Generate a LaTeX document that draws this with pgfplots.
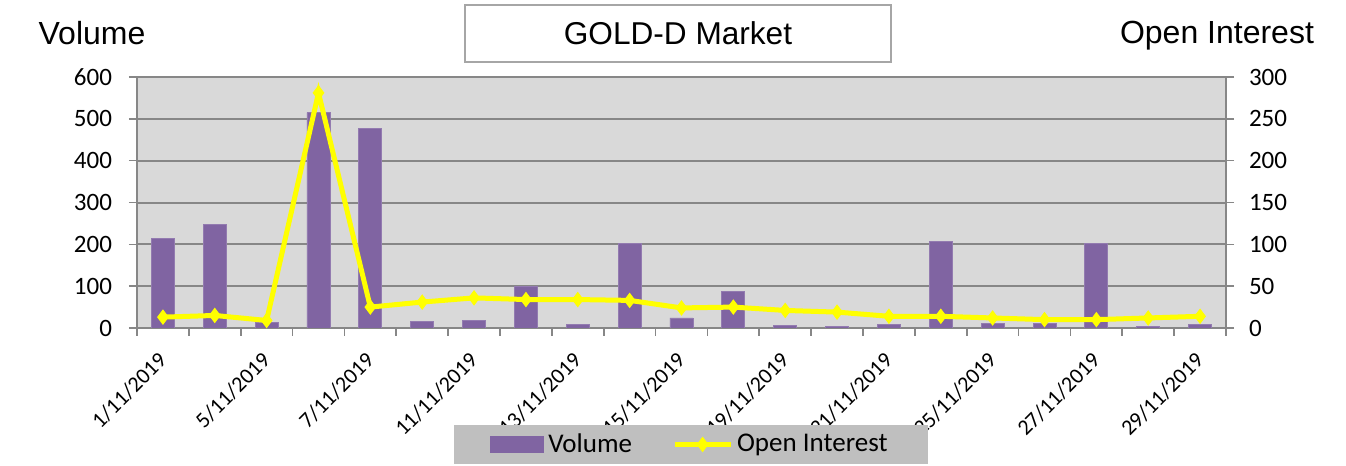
\documentclass[border=0pt]{standalone}
\usepackage{fontspec}
\setmainfont{Carlito}
\newfontfamily\arialf{Liberation Sans}
\usepackage{pgfplots}
\usepackage{pgfplotstable}
\pgfplotsset{compat=1.18}
\definecolor{barpurple}{HTML}{8064A2}
\definecolor{plotbg}{HTML}{D9D9D9}
\definecolor{gridgray}{HTML}{878787}
\definecolor{leggray}{HTML}{BFBFBF}
\definecolor{ylw}{HTML}{FFFF00}
\definecolor{boxgray}{HTML}{A6A6A6}

\pgfplotstableread{
x vol oi
0 215 13
1 247 15
2 14 9
3 515 281
4 478 25
5 16 31
6 18 36
7 100 34
8 9 34
9 203 33
10 24 24
11 87 25
12 6 21
13 3 19
14 9 14
15 206 14
16 10 12
17 10 10
18 203 10
19 3 12
20 8 14
}\data

\pgfplotsset{
  /pgf/number format/assume math mode=true,
  common/.style={
    at={(0,0)}, anchor=south west,
    scale only axis, width=544.5pt, height=125.5pt,
    xmin=-0.5, xmax=20.5,
    tick align=outside, major tick length=4pt,
    tick style={gridgray, line width=0.8pt},
    axis line style={gridgray, line width=1pt},
    tick label style={font=\fontsize{12.5}{15}\selectfont},
  }
}

\begin{document}
\begin{tikzpicture}
\path[use as bounding box] (-68.5pt,-69pt) rectangle (604.5pt,164pt);
\begin{axis}[common,
  ymin=0, ymax=600, ytick={0,100,...,600},
  axis background/.style={fill=plotbg},
  axis x line*=bottom, axis y line*=left,
  ymajorgrids, major grid style={gridgray, line width=1pt},
  xtick={-0.5,0.5,...,20.5}, xticklabels={},
  extra x ticks={0,2,...,20},
  extra x tick labels={1/11/2019,5/11/2019,7/11/2019,11/11/2019,13/11/2019,15/11/2019,19/11/2019,21/11/2019,25/11/2019,27/11/2019,29/11/2019},
  extra x tick style={major tick length=0pt, tick label style={font=\fontsize{11}{13}\selectfont, xshift=-3pt, yshift=-6.5pt, rotate=45, anchor=north east}},
  y tick label style={xshift=-5pt},
]
\addplot[ybar, bar width=11.5pt, fill=barpurple, draw=barpurple!85!white]
  table[x=x,y=vol]{\data};
\end{axis}
\begin{axis}[common,
  ymin=0, ymax=300, ytick={0,50,...,300},
  axis y line*=right, axis x line=none,
  y tick label style={xshift=4pt},
  clip=false,
  legend style={at={(0.5087,-0.464)}, anchor=center, fill=leggray, draw=none,
    legend columns=2, font=\fontsize{13.5}{15}\selectfont,
    inner xsep=18pt, inner ysep=2.5pt,
    /tikz/every even column/.append style={column sep=18pt}},
]
\addlegendimage{fill=barpurple, draw=none,
  legend image code/.code={\fill[barpurple] (0pt,-4.25pt) rectangle (27pt,4.25pt);}}
\addlegendentry{Volume}
\addplot[ylw, line width=2.5pt, mark=diamond*, mark size=3.5pt,
  mark options={fill=ylw, draw=ylw, line width=0.5pt},
  legend image code/.code={\draw[mark repeat=2,mark phase=2] plot coordinates {(0pt,0pt) (14pt,0pt) (28pt,0pt)};}]
  table[x=x,y=oi]{\data};
\addlegendentry{Open Interest}
\end{axis}
\node[draw=boxgray, fill=white, line width=0.8pt, minimum width=213pt, minimum height=28.5pt,
  font=\arialf\fontsize{15.8}{18}\selectfont] at (270.5pt,147.25pt) {GOLD-D Market};
\node[font=\arialf\fontsize{16}{18}\selectfont] at (-22.5pt,147.5pt) {Volume};
\node[font=\arialf\fontsize{16}{18}\selectfont] at (540pt,146pt) {Open Interest};
\end{tikzpicture}
\end{document}
